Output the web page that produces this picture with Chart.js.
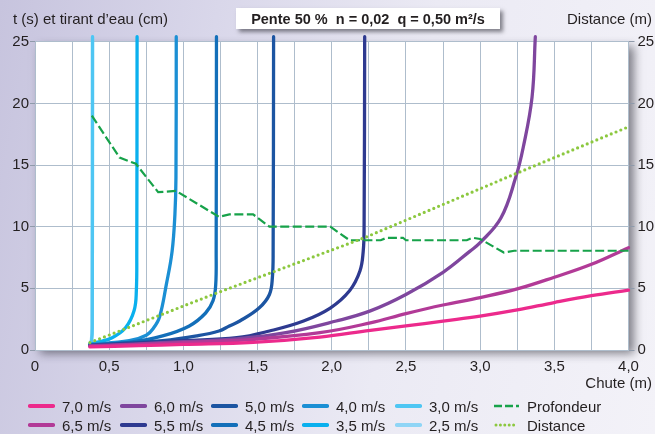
<!DOCTYPE html>
<html>
<head>
<meta charset="utf-8">
<script src="https://cdn.jsdelivr.net/npm/chart.js@4/dist/chart.umd.min.js"></script>
<style>
html,body{margin:0;padding:0;}
body{width:655px;height:434px;overflow:hidden;position:relative;
  background:linear-gradient(100deg,#c7c4de 0%,#d9d7ea 30%,#ebeaf4 60%,#f3f2f8 100%);
  font-family:"Liberation Sans",Arial,sans-serif;color:#231f20;}
#wrap{position:absolute;left:0;top:0;width:655px;height:434px;}
.t{position:absolute;font-size:15px;white-space:pre;line-height:18px;}
#box{position:absolute;left:236px;top:8px;width:264px;height:21px;background:#fff;
  box-shadow:3px 3px 4px rgba(40,40,50,0.55);font-weight:bold;font-size:14.5px;
  line-height:22px;text-align:center;white-space:pre;}
.li{position:absolute;height:18px;display:flex;align-items:center;font-size:15px;white-space:pre;}
.li svg{margin-right:7px;}
</style>
</head>
<body>
<div id="wrap"><canvas id="c"></canvas></div>
<div class="t" style="left:13px;top:10px;">t (s) et tirant d’eau (cm)</div>
<div class="t" style="right:3px;top:10px;">Distance (m)</div>
<div class="t" style="right:3px;top:374px;">Chute (m)</div>
<div id="box">Pente 50 %  n = 0,02  q = 0,50 m²/s</div>
<div id="legend"></div>
<script>
// ---- data: [chute (m), t (s)] ----
const v70 = [[0.37,0.25],[0.7,0.35],[1.0,0.45],[1.47,0.62],[1.92,1.05],[2.26,1.6],[2.5,1.95],[2.75,2.35],[3.0,2.75],[3.25,3.25],[3.5,3.85],[3.75,4.4],[4.0,4.85]];
const v65 = [[0.37,0.3],[0.7,0.45],[1.0,0.6],[1.47,0.87],[1.92,1.4],[2.26,2.2],[2.5,2.95],[2.75,3.65],[3.0,4.25],[3.25,4.95],[3.5,5.9],[3.75,6.95],[4.0,8.3]];
const v60 = [[0.37,0.35],[0.7,0.5],[1.0,0.68],[1.36,0.9],[1.69,1.4],[2.03,2.35],[2.26,3.17],[2.5,4.5],[2.75,6.3],[2.93,8.0],[3.0,8.7],[3.14,10.7],[3.24,14.0],[3.29,16.4],[3.35,20.5],[3.372,25.4]];
const v55 = [[0.37,0.35],[0.7,0.55],[1.0,0.75],[1.36,1.0],[1.58,1.54],[1.81,2.35],[1.99,3.4],[2.12,4.8],[2.19,6.4],[2.212,8.0],[2.218,10.0],[2.222,25.4]];
const v50 = [[0.37,0.4],[0.6,0.55],[0.86,0.75],[1.09,1.14],[1.24,1.54],[1.31,1.95],[1.38,2.35],[1.51,3.4],[1.58,4.5],[1.6,5.9],[1.605,8.0],[1.608,25.4]];
const v45 = [[0.37,0.4],[0.635,0.62],[0.86,1.14],[1.04,1.95],[1.15,3.0],[1.2,4.0],[1.218,5.3],[1.221,8.0],[1.223,25.4]];
const v40 = [[0.37,0.45],[0.635,0.75],[0.75,1.2],[0.8,1.8],[0.84,2.7],[0.885,5.3],[0.924,8.0],[0.943,11.0],[0.95,14.0],[0.952,25.4]];
const v35 = [[0.37,0.45],[0.41,0.6],[0.52,1.0],[0.61,1.8],[0.668,3.2],[0.683,4.8],[0.686,8.0],[0.688,25.4]];
const v30 = [[0.37,0.5],[0.382,0.8],[0.386,2.0],[0.388,25.4]];
const v25 = [[0.37,0.5],[0.38,0.8],[0.385,2.0],[0.387,25.4]];
const profondeur = [[0.383,19.0],[0.57,15.6],[0.68,15.1],[0.83,12.8],[0.95,12.9],[1.24,10.8],[1.31,11.0],[1.47,11.0],[1.58,10.0],[1.99,10.0],[2.12,8.9],[2.33,8.9],[2.37,9.1],[2.48,9.1],[2.5,8.9],[2.91,8.9],[2.95,9.1],[3.0,9.0],[3.16,7.9],[3.23,8.05],[4.0,8.05]];
const distance = [[0.37,0.6],[1.22,4.6],[2.22,9.1],[3.24,14.3],[4.0,18.1]];

const speedLabels = ['7,0 m/s','6,5 m/s','6,0 m/s','5,5 m/s','5,0 m/s','4,5 m/s','4,0 m/s','3,5 m/s','3,0 m/s','2,5 m/s'];
const xTickValues = [0,0.5,1,1.5,2,2.5,3,3.5,4];
const xTickLabels = ['0','0,5','1,0','1,5','2,0','2,5','3,0','3,5','4,0'];
const yTickValues = [0,5,10,15,20,25];
const yTickLabels = ['0','5','10','15','20','25'];

// ---- styles ----
const speedColors = ['#ec2a8c','#b23a97','#7f469e','#2e3a90','#1c55a2','#136fb9','#1b8fd4','#0ab0ee','#4ec6f3','#8fd5f6'];
const profColor = '#17a24a';
const distColor = '#8cc83f';
const gridColor = '#aebdcc';
const textColor = '#231f20';
const FONT = '"Liberation Sans", Arial, sans-serif';

const curves = [v70,v65,v60,v55,v50,v45,v40,v35,v30,v25];
const toXY = arr => arr.map(p => ({x:p[0], y:p[1]}));

const datasets = curves.map((c,i) => ({
  label: speedLabels[i], data: toXY(c), borderColor: speedColors[i],
  borderWidth: 3.3, pointRadius: 0, tension: 0.4,
  borderCapStyle: 'round', borderJoinStyle: 'round', clip: 8, yAxisID: 'y'
}));
datasets.push({label:'Profondeur', data: toXY(profondeur), borderColor: profColor, borderWidth: 2.2,
  borderDash:[9,3.5], pointRadius:0, tension:0, order:-1, yAxisID:'y', clip: 8});
datasets.push({label:'Distance', data: toXY(distance), borderColor: distColor, borderWidth: 3.2,
  borderDash:[0,5.2], borderCapStyle:'round', pointRadius:0, tension:0, order:-2, yAxisID:'y2', clip: 8});

const plotBg = {
  id:'plotBg',
  beforeDraw(chart){
    const {ctx, chartArea:a} = chart;
    ctx.save();
    ctx.shadowColor = 'rgba(50,50,60,0.6)';
    ctx.shadowBlur = 9; ctx.shadowOffsetX = 5; ctx.shadowOffsetY = 4;
    ctx.fillStyle = '#fff';
    ctx.fillRect(a.left, a.top, a.right - a.left, a.bottom - a.top);
    ctx.restore();
  }
};

const near = (v, arr) => arr.findIndex(t => Math.abs(t - v) < 1e-6);

new Chart(document.getElementById('c'), {
  type: 'line',
  data: { datasets },
  options: {
    responsive: true, maintainAspectRatio: false, animation: false,
    layout: { padding: { top: 41.7, left: 0, right: 0, bottom: 0 } },
    plugins: { legend: { display: false }, tooltip: { enabled: false } },
    elements: { line: { capBezierPoints: false } },
    scales: {
      x: {
        type: 'linear', min: 0, max: 4,
        afterFit(s){ s.height = 84; },
        ticks: { stepSize: 0.25, color: textColor, padding: 8, maxRotation: 0, autoSkip: false,
          font: { family: FONT, size: 15 },
          callback(v){ const i = near(v, xTickValues); return i >= 0 ? xTickLabels[i] : ''; } },
        grid: { color: gridColor, lineWidth: 1, drawTicks: false },
        border: { color: gridColor }
      },
      y: {
        type: 'linear', position: 'left', min: 0, max: 25,
        afterFit(s){ s.width = 35; },
        ticks: { stepSize: 5, color: textColor, padding: 1, font: { family: FONT, size: 15 },
          callback(v){ const i = near(v, yTickValues); return i >= 0 ? yTickLabels[i] : ''; } },
        grid: { color: gridColor, lineWidth: 1, drawTicks: true, tickLength: 5, tickColor: '#8f9aaa' },
        border: { color: gridColor }
      },
      y2: {
        type: 'linear', position: 'right', min: 0, max: 25,
        afterFit(s){ s.width = 26.5; },
        ticks: { stepSize: 5, color: textColor, padding: 3, font: { family: FONT, size: 15 },
          callback(v){ const i = near(v, yTickValues); return i >= 0 ? yTickLabels[i] : ''; } },
        grid: { drawOnChartArea: false, drawTicks: true, tickLength: 6, tickColor: '#8f9aaa' },
        border: { color: gridColor }
      }
    }
  },
  plugins: [plotBg]
});

// ---- HTML legend built from the datasets ----
const legendRows = [
  ['7,0 m/s','6,0 m/s','5,0 m/s','4,0 m/s','3,0 m/s','Profondeur'],
  ['6,5 m/s','5,5 m/s','4,5 m/s','3,5 m/s','2,5 m/s','Distance']
];
const colX = [28,120,211,302,395,493];
const rowY = [397,416];
const lg = document.getElementById('legend');
legendRows.forEach((row, r) => row.forEach((lab, c) => {
  const ds = datasets.find(d => d.label === lab);
  let sw;
  if (lab === 'Profondeur') {
    sw = `<svg width="27" height="8"><line x1="1" y1="4" x2="26" y2="4" stroke="${ds.borderColor}" stroke-width="2.4" stroke-dasharray="8 3"/></svg>`;
  } else if (lab === 'Distance') {
    sw = `<svg width="27" height="8"><line x1="3" y1="4" x2="25" y2="4" stroke="${ds.borderColor}" stroke-width="3" stroke-linecap="round" stroke-dasharray="0 4.4"/></svg>`;
  } else {
    sw = `<svg width="27" height="8"><line x1="2" y1="4" x2="25" y2="4" stroke="${ds.borderColor}" stroke-width="4.2" stroke-linecap="round"/></svg>`;
  }
  const d = document.createElement('div');
  d.className = 'li';
  d.style.left = colX[c] + 'px';
  d.style.top = rowY[r] + 'px';
  d.innerHTML = sw + '<span>' + lab + '</span>';
  lg.appendChild(d);
}));
</script>
</body>
</html>
